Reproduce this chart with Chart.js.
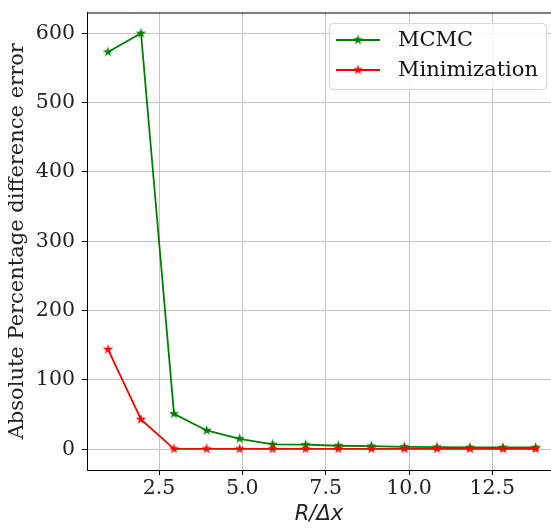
<!DOCTYPE html>
<html lang="en">
<head>
<meta charset="UTF-8">
<title>Absolute Percentage difference error</title>
<script src="https://cdn.jsdelivr.net/npm/chart.js@4.4.1/dist/chart.umd.min.js"></script>
<style>
    body { margin: 0; background: #fff; }
    #wrap { width: 551px; height: 529px; }
</style>
</head>
<body>
<div id="wrap"><canvas id="chart" width="551" height="529"></canvas></div>
<script>
    // values
    const rOverDx = [0.97, 1.96, 2.95, 3.93, 4.92, 5.91, 6.9, 7.88, 8.87, 9.86, 10.84, 11.83, 12.82, 13.8];
    const mcmcError = [573, 600, 51, 27, 15, 7, 6.5, 5, 4.5, 3.5, 3, 2.5, 2.5, 2.5];
    const minimizationError = [144, 43, 0.5, 0.5, 0.5, 0.5, 0.5, 0.5, 0.5, 0.5, 0.5, 0.5, 0.5, 0.5];
    const xTicks = [2.5, 5.0, 7.5, 10.0, 12.5];
    const yTicks = [0, 100, 200, 300, 400, 500, 600];
    const seriesLabels = ['MCMC', 'Minimization'];
    const seriesColors = ['#008000', '#ff0000'];

    const SERIF = "'DejaVu Serif', serif";

    // filled five-point star like matplotlib's '*' marker
    function starMarker(color, r) {
        const size = Math.ceil(r * 2) + 2;
        const c = document.createElement('canvas');
        c.width = size; c.height = size;
        const g = c.getContext('2d');
        const cx = size / 2, cy = size / 2, inner = r * 0.382;
        g.beginPath();
        for (let i = 0; i < 10; i++) {
            const rad = i % 2 === 0 ? r : inner;
            const a = -Math.PI / 2 + i * Math.PI / 5;
            const px = cx + rad * Math.cos(a), py = cy + rad * Math.sin(a);
            i === 0 ? g.moveTo(px, py) : g.lineTo(px, py);
        }
        g.closePath();
        g.fillStyle = color;
        g.fill();
        return c;
    }

    const markers = seriesColors.map(c => starMarker(c, 5.5));

    // top spine + legend box inside the axes
    const axesExtras = {
        id: 'axesExtras',
        afterDraw(chart) {
            const ctx = chart.ctx;
            const a = chart.chartArea;
            ctx.save();
            ctx.strokeStyle = '#000';
            ctx.lineWidth = 1;
            ctx.beginPath();
            ctx.moveTo(a.left, a.top + 0.5);
            ctx.lineTo(a.right, a.top + 0.5);
            ctx.stroke();

            // legend
            const bx = 329.5, by = 23.5, bw = 217, bh = 66, rr = 4;
            ctx.beginPath();
            ctx.roundRect(bx, by, bw, bh, rr);
            ctx.fillStyle = 'rgba(255,255,255,0.8)';
            ctx.fill();
            ctx.strokeStyle = '#d6d6d6';
            ctx.stroke();

            ctx.font = '21px ' + SERIF;
            ctx.textBaseline = 'middle';
            ctx.fillStyle = '#111';
            const rows = [40, 70];
            chart.data.datasets.forEach((ds, i) => {
                const y = rows[i];
                ctx.strokeStyle = ds.borderColor;
                ctx.lineWidth = 2;
                ctx.beginPath();
                ctx.moveTo(336, y);
                ctx.lineTo(380, y);
                ctx.stroke();
                const m = markers[i];
                ctx.drawImage(m, 358 - m.width / 2, y - m.height / 2);
                ctx.fillText(ds.label, 398, y + 1);
            });
            ctx.restore();
        }
    };

    new Chart(document.getElementById('chart'), {
        type: 'line',
        data: {
            datasets: [
                {
                    label: seriesLabels[0],
                    data: rOverDx.map((x, i) => ({ x, y: mcmcError[i] })),
                    borderColor: seriesColors[0],
                    backgroundColor: seriesColors[0],
                    borderWidth: 1.8,
                    pointStyle: markers[0],
                    order: 2
                },
                {
                    label: seriesLabels[1],
                    data: rOverDx.map((x, i) => ({ x, y: minimizationError[i] })),
                    borderColor: seriesColors[1],
                    backgroundColor: seriesColors[1],
                    borderWidth: 1.8,
                    pointStyle: markers[1],
                    order: 1
                }
            ]
        },
        options: {
            responsive: false,
            animation: false,
            devicePixelRatio: 1,
            layout: { autoPadding: false, padding: { top: 12.5, right: 0, left: 0, bottom: 0 } },
            plugins: {
                legend: { display: false },
                tooltip: { enabled: false }
            },
            scales: {
                x: {
                    type: 'linear',
                    min: 0.34,
                    max: 14.26,
                    afterFit(s) { s.height = 59; s.paddingLeft = 0; s.paddingRight = 0; },
                    afterBuildTicks(s) { s.ticks = xTicks.map(v => ({ value: v })); },
                    grid: { color: '#c4c4c4', lineWidth: 1, tickLength: 5, tickColor: '#000' },
                    border: { color: '#000', width: 1 },
                    ticks: {
                        padding: 1,
                        color: '#222',
                        font: { family: SERIF, size: 20.5 },
                        callback: v => v.toFixed(1),
                        maxRotation: 0
                    },
                    title: {
                        display: true,
                        text: 'R/Δx',
                        color: '#222',
                        font: { family: "'DejaVu Sans', sans-serif", style: 'italic', size: 21 },
                        padding: { top: 0, bottom: 2 }
                    }
                },
                y: {
                    min: -30,
                    max: 630,
                    afterFit(s) { s.width = 87; s.paddingTop = 0; s.paddingBottom = 0; },
                    afterBuildTicks(s) { s.ticks = yTicks.map(v => ({ value: v })); },
                    grid: { color: '#c4c4c4', lineWidth: 1, tickLength: 5, tickColor: '#000' },
                    border: { color: '#000', width: 1 },
                    ticks: {
                        padding: 7,
                        color: '#222',
                        font: { family: SERIF, size: 20.5 }
                    },
                    title: {
                        display: true,
                        text: 'Absolute Percentage difference error',
                        color: '#222',
                        font: { family: SERIF, size: 21 },
                        padding: { top: 5, bottom: 0 }
                    }
                }
            }
        },
        plugins: [axesExtras]
    });
</script>
</body>
</html>
